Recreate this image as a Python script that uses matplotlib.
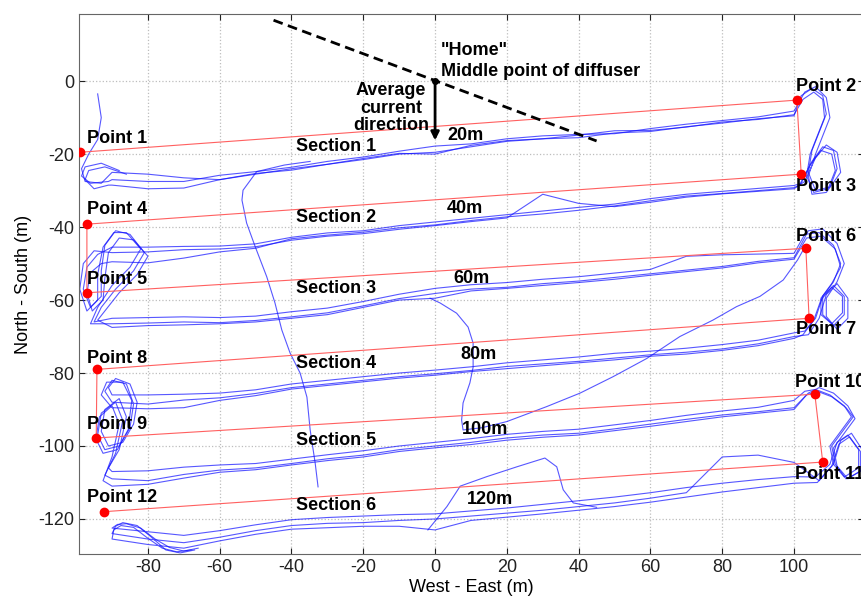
import numpy as np
import matplotlib
matplotlib.use("Agg")
import matplotlib.pyplot as plt

plt.rcParams['font.family'] = ['Liberation Sans', 'DejaVu Sans']
plt.rcParams['axes.unicode_minus'] = False

# planned survey points (red)
PT_NAMES = ["Point 1", "Point 2", "Point 3", "Point 4", "Point 5", "Point 6",
            "Point 7", "Point 8", "Point 9", "Point 10", "Point 11", "Point 12"]
PT_X = [-99, 100.8, 102, -97, -97, 103.3, 104.2, -94.2, -94.4, 105.8, 108, -92.2]
PT_Y = [-19.5, -5.2, -25.5, -39.2, -58, -45.8, -65, -79, -97.8, -85.8, -104.4, -118]
PT_LBL_X = [-97, 100.6, 100.6, -97, -97, 100.6, 100.6, -97, -97, 100.4, 100.4, -97]
PT_LBL_Y = [-15.6, -1.4, -28.8, -35.3, -54.5, -42.7, -68.2, -75.9, -94.2, -82.5, -107.7, -114]

SEC_NAMES = ["Section 1", "Section 2", "Section 3", "Section 4", "Section 5", "Section 6"]
SEC_LBL_Y = [-17.8, -37.3, -56.7, -77.5, -98.4, -116.4]
DIST_NAMES = ["20m", "40m", "60m", "80m", "100m", "120m"]
DIST_X = [3.3, 3.3, 5, 7, 7.5, 8.9]
DIST_Y = [-14.8, -35, -54, -75, -95.6, -114.8]

DIFFUSER_X = [-45, 45]
DIFFUSER_Y = [16.7, -16.4]

# measured track, stations along each section
STATIONS = [-90, -80, -70, -60, -50, -40, -30, -20, -10, 0, 10, 20, 30, 40, 50, 60, 70, 80, 90, 100]
SEC1 = [[-25, -25.5, -26.5, -27, -25.5, -24, -22.8, -21.5, -20, -19.5, -18, -16.5, -15.8, -15.5, -14.2, -13.8, -12.5, -11.5, -10.3, -9.5],
        [-27, -27.5, -27.5, -25.8, -24.8, -23.6, -22, -20.8, -19.2, -17.8, -17.2, -15.8, -15, -14.6, -14.4, -13, -11.8, -10.8, -9.8, -8.2],
        [-28.5, -29.5, -29.3, -27, -25.3, -24.4, -22.8, -21.2, -19.8, -20, -17.6, -16.3, -15.8, -14.8, -13.6, -13.5, -12.6, -11.2, -10.5, -9.2]]
SEC2 = [[-45.5, -45.5, -45.3, -45.2, -44.6, -42.8, -41.6, -41, -39.6, -38.6, -37.6, -36.6, -35.6, -34.6, -33.7, -32.2, -31, -30.2, -29.4, -28.6],
        [-47, -46.8, -46.2, -46, -45.4, -43.6, -42.5, -41.8, -40.6, -39.6, -38.5, -37.5, -31, -33.5, -34.4, -33.2, -31.8, -30.9, -30.2, -29.5],
        [-49.5, -49.8, -48.5, -46.8, -45.8, -43.2, -42.2, -41.4, -40.2, -39.4, -38.2, -37.2, -36.4, -35.4, -34.2, -32.8, -31.5, -30.8, -30, -29.2]]
SEC3 = [[-65, -64.8, -64.6, -64.8, -64.4, -63.2, -62.2, -60.4, -58.4, -56.8, -55.8, -55.2, -54.3, -53.6, -52.6, -51.6, -48, -47.6, -47.4, -47.2],
        [-66.5, -66.3, -66, -66.2, -65.6, -64.6, -63.5, -61.6, -59.6, -58.2, -57, -56.5, -55.5, -54.8, -53.8, -52.8, -51.8, -50.8, -49.4, -48.4],
        [-67.5, -67, -66.8, -66.5, -66, -65, -64, -62, -60, -59.5, -57.5, -56.8, -56, -55.2, -54.3, -53.2, -52.2, -51.2, -49.8, -48.8]]
SEC4 = [[-86, -86, -85.8, -85.5, -84.6, -83, -82, -81, -80, -79.2, -78.3, -77.2, -76.4, -75.6, -74.6, -74, -73.2, -72.2, -71, -69],
        [-88, -88.5, -87.4, -86.8, -85.6, -84, -83, -82, -81, -80.2, -79.3, -78.2, -77.5, -76.8, -75.9, -75, -74.3, -73.4, -72, -70],
        [-89.5, -89.8, -89.5, -87.5, -86.2, -84.4, -83.4, -82.4, -81.4, -80.6, -79.6, -78.8, -78, -77.2, -76.4, -75.4, -74.8, -73.8, -72.5, -70.5]]
SEC5 = [[-107, -106.8, -105.8, -105.2, -104.8, -103.6, -102.4, -101.3, -100, -99, -98, -96.8, -96, -95.4, -94.2, -93, -91.6, -90.4, -89.4, -87.5],
        [-109, -109.5, -107.8, -106.6, -106, -104.8, -103.5, -102.5, -101, -100, -99, -97.8, -97, -96.5, -95.3, -94, -92.7, -91.5, -90.6, -89.5],
        [-111, -110.5, -108.8, -107.2, -106.5, -105.2, -104, -103, -101.5, -100.5, -99.6, -98.4, -97.6, -97, -95.8, -94.6, -93.3, -92, -91, -90]]
SEC6 = [[-122.5, -123.5, -124.5, -123.2, -121.6, -120.2, -119.6, -119.2, -118.8, -118.6, -117.8, -117, -116, -115, -114, -112.8, -111.4, -110.2, -109.2, -108.4],
        [-124, -125.5, -126.5, -125, -123.2, -121.8, -121.2, -121, -120.4, -120, -119.2, -118.4, -117.6, -116.6, -115.6, -114.3, -112.8, -103, -102.5, -104.5],
        [-125.5, -127, -128, -126, -124.2, -122.8, -122.4, -122, -122, -123, -120.4, -119.5, -118.6, -117.6, -116.6, -115.4, -114, -112.6, -111.4, -110.2]]

# turn loops at the ends of the sections (x list, y list) per pass
START = [([-94, -93, -94, -96.5, -98.5, -97.5, -93], [-3.5, -10, -16, -20, -24, -27.5, -28]),
         ([-88, -93, -97.5, -98.5, -96, -91], [-24.5, -22.5, -23.5, -26, -28, -27.5]),
         ([-86, -92, -96.5, -97.5, -95, -91], [-25.5, -23.5, -24.5, -27, -29.5, -28.5])]
LOOP_A = [([100, 102, 105, 108, 109, 107, 105, 104, 106, 110, 112, 111, 108, 105, 102, 100],
           [-9.5, -4, -2, -4, -9, -14, -19, -25, -30, -29, -24, -19, -18, -22, -28, -28.6]),
          ([100, 103, 106, 109, 110, 108, 106, 104, 105, 109, 113, 112, 109, 106, 103, 100],
           [-8.2, -3, -1.5, -4.5, -10, -15, -20, -26, -31, -30.5, -25, -19.5, -17.5, -21, -27.5, -29.5]),
          ([100, 102.5, 105.5, 108, 108.5, 106.5, 104.5, 103.5, 105.5, 109.5, 111.5, 110.5, 107.5, 104.5, 101.5, 100],
           [-9.2, -5, -3, -5, -10, -15, -20, -26, -30.5, -29.5, -24.5, -20, -19, -23, -28.5, -29.2])]
LOOP_B = [([-90, -94, -97, -98, -96, -93, -93, -92, -89, -85, -81, -84, -89, -93, -95, -90],
           [-45.5, -47.5, -51, -57, -62, -59, -52, -45, -41, -42, -47, -52, -57, -62, -66, -65]),
          ([-90, -95, -98, -99, -97, -94, -94, -92.5, -89.5, -86, -82, -85, -90, -94, -96, -90],
           [-47, -46.5, -50, -57, -63, -60, -53, -45.5, -41.5, -41.5, -46, -51, -56, -62, -66.5, -66.5]),
          ([-90, -93, -96, -97, -95.5, -92.5, -92, -91, -88, -84, -80, -83, -88, -92, -94, -90],
           [-49.5, -50, -52.5, -58, -63, -60, -54, -47, -43, -43.5, -48, -53, -58, -63, -65.5, -67.5])]
LOOP_C = [([100, 103, 107, 111, 113, 111, 108, 108, 111, 114, 114, 111, 108, 106, 103, 100],
           [-47.2, -42, -41.5, -45, -50, -55, -59, -64, -67, -64, -59, -56, -59, -65, -68.5, -69]),
          ([100, 104, 108, 112, 114, 112, 109, 109, 112, 115, 115, 112, 109, 107, 104, 100],
           [-48.4, -41, -40.5, -44.5, -50, -55, -59.5, -64.5, -68, -65, -59.5, -55.5, -58.5, -65, -69.5, -70]),
          ([100, 103.5, 107.5, 111.5, 113, 110.5, 107.5, 107.5, 110.5, 113.5, 113.5, 110.5, 107.5, 105.5, 102.5, 100],
           [-48.8, -43, -42.5, -46, -51, -55.5, -59.5, -64, -66.5, -63.5, -59, -56.5, -60, -65.5, -69.5, -70.5])]
LOOP_D = [([-90, -91, -89, -85, -83, -84, -87, -91, -93, -92, -88, -86, -88, -91, -90],
           [-86, -84, -81.5, -83, -88, -94, -99, -100, -96, -90, -87, -92, -101, -106, -107]),
          ([-90, -92, -90, -86, -84, -85, -88, -92, -94, -93, -89, -87, -89, -92, -90],
           [-88, -85, -82, -83, -88.5, -95, -100, -101, -97, -91, -88, -93, -102, -108, -109]),
          ([-90, -93, -91.5, -87, -84.5, -85.5, -88.5, -92.5, -94.5, -93.5, -90, -88, -90, -92.5, -90],
           [-89.5, -86, -82.5, -82.5, -87.5, -95.5, -101, -102, -98, -92, -89, -94, -103, -109.5, -111])]
LOOP_E = [([100, 103, 106, 110, 114, 116, 113, 110, 111, 114, 118, 118, 115, 112, 110, 106, 100],
           [-87.5, -85, -84.5, -86, -89, -92, -96, -100, -105, -108.5, -106, -101, -97, -99, -105, -108.5, -108.4]),
          ([100, 104, 107, 111, 115, 117, 114, 111, 112, 115, 119, 119, 116, 113, 111, 107, 100],
           [-89.5, -85.5, -84, -85.5, -89, -92.5, -96.5, -100.5, -105.5, -109, -106.5, -101, -96.5, -98.5, -105, -109.5, -104.5]),
          ([100, 103.5, 106.5, 110.5, 114.5, 116.5, 113.5, 110.5, 111.5, 114.5, 118.5, 118.5, 115.5, 112.5, 110.5, 106.5, 100],
           [-90, -86, -85, -86.5, -89.5, -92, -96, -100, -105, -109, -107, -101.5, -97.5, -99.5, -105.5, -110, -110.2])]
LOOP_F = [([-90, -88.5, -86, -82, -78, -74, -70, -66], [-122.5, -121.5, -121.3, -122.5, -125.5, -127.8, -128.8, -128]),
          ([-90, -89, -87, -83, -79, -75, -71, -67], [-124, -122, -121, -121.8, -125, -128.5, -129.3, -128.5]),
          ([-90, -89.5, -87.5, -84, -80, -76, -72, -68], [-125.5, -123, -121.8, -122.3, -125.3, -128, -129, -128.5])]

# single transit legs
TRANSIT1_X = [-34.8, -42, -49.7, -53.5, -53.8, -52.5, -50.1, -46.9, -44.6, -42.7, -40.4, -37.6, -35.7, -34.8, -33.4, -32.6]
TRANSIT1_Y = [-22, -23, -24.8, -29.9, -32.6, -38.9, -45.4, -53.6, -60.8, -68.2, -74.5, -80, -86.6, -95.6, -104.7, -111.2]
TRANSIT2_X = [-1.4, 1.4, 6, 9.2, 10.6, 10.6, 9.7, 7.8, 7.4, 7.8, 13, 20, 31.1, 40.4, 49.6, 59, 68.2, 77.4, 84, 90.5, 97, 101, 103]
TRANSIT2_Y = [-59.5, -60.8, -63.6, -67.4, -71.8, -78.4, -82.7, -88.2, -92.9, -95.6, -95, -93.3, -89.2, -85.5, -81, -76, -70, -65.5, -61.8, -59, -54.5, -49, -45.5]
BUMP6_X = [-2, 3.3, 7, 14.4, 22.8, 30.6, 33.9, 35.7, 38.5, 45]
BUMP6_Y = [-123, -116.6, -111, -108.4, -105.7, -103.3, -105.7, -112, -115.6, -116.8]

fig = plt.figure(figsize=(8.62, 5.96), dpi=100)
ax = fig.add_axes([79 / 862, 42 / 596, 785 / 862, 540 / 596])

track_col = '#1010ff'
for p in range(3):
    xs, ys = [], []
    def add(xl, yl):
        xs.extend(xl)
        ys.extend(yl)
    add(*START[p])
    add(STATIONS, SEC1[p])
    add(*LOOP_A[p])
    add(STATIONS[::-1], SEC2[p][::-1])
    add(*LOOP_B[p])
    add(STATIONS, SEC3[p])
    add(*LOOP_C[p])
    add(STATIONS[::-1], SEC4[p][::-1])
    add(*LOOP_D[p])
    add(STATIONS, SEC5[p])
    add(*LOOP_E[p])
    add(STATIONS[::-1], SEC6[p][::-1])
    add(*LOOP_F[p])
    ax.plot(xs, ys, color=track_col, lw=0.8, alpha=0.7, zorder=2,
            solid_joinstyle='round')

for tx, ty in [(TRANSIT1_X, TRANSIT1_Y), (TRANSIT2_X, TRANSIT2_Y), (BUMP6_X, BUMP6_Y)]:
    ax.plot(tx, ty, color=track_col, lw=0.8, alpha=0.7, zorder=2, solid_joinstyle='round')

# planned path
ax.plot(PT_X, PT_Y, color='#ff6060', lw=0.8, zorder=3)
ax.plot(PT_X, PT_Y, 'o', color='red', ms=6, ls='none', zorder=4)

ax.plot(DIFFUSER_X, DIFFUSER_Y, color='k', lw=2, ls=(0, (3.5, 2)), zorder=5)
ax.plot([0], [0], 'ko', ms=4, zorder=6)
ax.annotate('', xy=(0, -17), xytext=(0, 0),
            arrowprops=dict(arrowstyle='-|>', color='k', lw=2, mutation_scale=12), zorder=6)

fs = 13
for name, lx, ly in zip(PT_NAMES, PT_LBL_X, PT_LBL_Y):
    ax.text(lx, ly, name, fontsize=fs, fontweight='bold', va='center', ha='left', clip_on=False)
for name, ly in zip(SEC_NAMES, SEC_LBL_Y):
    ax.text(-38.7, ly, name, fontsize=fs, fontweight='bold', va='center', ha='left')
for name, lx, ly in zip(DIST_NAMES, DIST_X, DIST_Y):
    ax.text(lx, ly, name, fontsize=fs, fontweight='bold', va='center', ha='left')
ax.text(1.7, 8.5, '"Home"', fontsize=fs, fontweight='bold', va='center', ha='left')
ax.text(1.7, 2.7, 'Middle point of diffuser', fontsize=fs, fontweight='bold', va='center', ha='left')
ax.text(-12.3, -7.4, 'Average\ncurrent\ndirection', fontsize=fs, fontweight='bold',
        va='center', ha='center', linespacing=1.05)

ax.set_xlim(-99.2, 119.5)
ax.set_ylim(-129.6, 18.4)
ax.set_xticks(np.arange(-80, 101, 20))
ax.set_yticks(np.arange(-120, 1, 20))
ax.grid(True, linestyle=':', color='#bdbdbd', lw=0.9)
ax.tick_params(direction='in', top=True, right=True, length=4, labelsize=fs, colors='#222222')
for s in ax.spines.values():
    s.set_color('#666666')
ax.set_xlabel('West - East (m)', fontsize=fs, labelpad=2)
ax.set_ylabel('North - South (m)', fontsize=fs, labelpad=4)

fig.savefig('out.png', dpi=100)
